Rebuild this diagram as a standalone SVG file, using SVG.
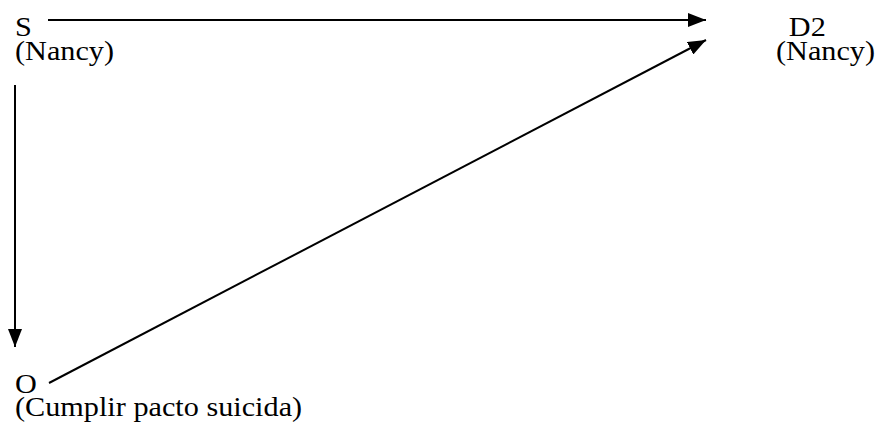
<svg xmlns="http://www.w3.org/2000/svg" width="875" height="437" viewBox="0 0 875 437">
<style>
  .t { font-family: 'Liberation Serif', 'Times New Roman', Times, serif; font-size: 27px; fill: #000; }
  .conn { stroke: #000; stroke-width: 2; fill: none; }
</style>
<defs>
  <marker id="arr" viewBox="0 0 18 14" refX="18" refY="7" markerWidth="18" markerHeight="14" markerUnits="userSpaceOnUse" orient="auto">
    <path d="M0,0 L18,7 L0,14 Z" fill="#000"/>
  </marker>
</defs>
<rect width="875" height="437" fill="#fff"/>
<g id="node-S" transform="translate(15,0) scale(1.12,1)">
  <text class="t" font-family="Liberation Serif" x="0" y="36">S</text>
  <text class="t" font-family="Liberation Serif" x="0" y="60">(Nancy)</text>
</g>
<g id="node-D2" transform="translate(776,0) scale(1.12,1)">
  <text class="t" font-family="Liberation Serif" x="11.5" y="36">D2</text>
  <text class="t" font-family="Liberation Serif" x="0" y="60">(Nancy)</text>
</g>
<g id="node-O" transform="translate(15,0) scale(1.12,1)">
  <text class="t" font-family="Liberation Serif" x="0" y="393">O</text>
  <text class="t" font-family="Liberation Serif" x="0" y="416">(Cumplir pacto suicida)</text>
</g>
<g id="connectors">
  <line class="conn" x1="48" y1="20" x2="706" y2="20" marker-end="url(#arr)"/>
  <line class="conn" x1="15" y1="85" x2="15" y2="347" marker-end="url(#arr)"/>
  <line class="conn" x1="49" y1="383" x2="706" y2="40" marker-end="url(#arr)"/>
</g>
</svg>
